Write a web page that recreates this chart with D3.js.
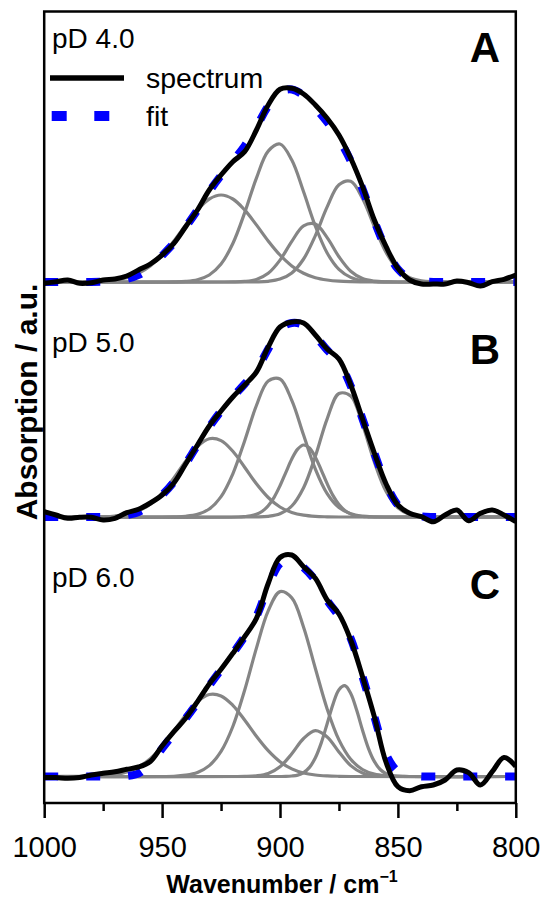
<!DOCTYPE html>
<html><head><meta charset="utf-8">
<script src="https://cdn.jsdelivr.net/npm/d3@7"></script>
<style>
body{margin:0;background:#fff}
svg text{font-family:"Liberation Sans",Arial,Helvetica,sans-serif;fill:#000}
</style>
</head><body>
<svg id="chart" width="544" height="899"></svg>
<script>
// ---------------- DATA ----------------
const wavenumber = [1000,995,990,985,980,975,970,965,960,955,950,945,940,935,930,925,920,915,910,905,900,895,890,885,880,875,870,865,860,855,850,845,840,835,830,825,820,815,810,805,800];

const specA = [-0.013,0.003,0.02,-0.013,-0.007,0.02,0.03,0.06,0.12,0.18,0.27,0.387,0.553,0.72,0.92,1.07,1.203,1.303,1.52,1.77,1.927,1.937,1.88,1.77,1.637,1.47,1.237,0.953,0.62,0.353,0.137,0.02,-0.02,-0.02,-0.02,0.01,-0.007,-0.04,0.003,0.027,0.07];
const fitA  = [0,0,0,0,0,0.003,0.01,0.03,0.07,0.15,0.265,0.39,0.55,0.72,0.905,1.065,1.21,1.36,1.55,1.76,1.9,1.925,1.865,1.74,1.6,1.43,1.21,0.93,0.61,0.33,0.13,0.035,0.008,0,0,0,0,0,0,0,0];

const specB = [0.053,0.02,-0.013,-0.003,-0.003,-0.03,-0.013,0.043,0.077,0.14,0.22,0.34,0.53,0.72,0.91,1.06,1.2,1.32,1.45,1.7,1.9,1.95,1.94,1.82,1.68,1.58,1.32,0.98,0.64,0.33,0.12,0.037,0.003,-0.047,0.02,0.07,-0.037,0.037,0.07,0.02,-0.047];
const fitB  = [0,0,0,0,0,0,0,0.02,0.05,0.12,0.22,0.35,0.53,0.72,0.9,1.06,1.2,1.33,1.47,1.68,1.88,1.94,1.92,1.81,1.67,1.55,1.31,0.98,0.64,0.33,0.12,0.03,0.005,0,0,0,0,0,0,0,0];

const specC = [-0.01,-0.01,-0.018,-0.01,0.015,0.032,0.048,0.072,0.095,0.15,0.305,0.448,0.582,0.748,0.925,1.072,1.232,1.398,1.582,1.93,2.19,2.215,2.098,1.982,1.765,1.625,1.365,0.998,0.598,0.14,-0.102,-0.142,-0.102,-0.085,-0.035,0.065,0.038,-0.085,0.048,0.19,0.1];
const fitC  = [0,0,0,0,0,0,0,0.005,0.03,0.13,0.28,0.43,0.58,0.74,0.91,1.07,1.23,1.4,1.6,1.9,2.13,2.18,2.09,1.96,1.76,1.6,1.38,1.0,0.6,0.22,0.05,0.01,0,0,0,0,0,0,0,0,0];

// fitted component bands: [wavenumber, absorption]
const compA1 = [[1000,0],[985,0.001],[980,0.003],[975,0.008],[970,0.02],[965,0.043],[960,0.088],[955,0.161],[950,0.27],[945,0.411],[940,0.571],[935,0.721],[930,0.83],[925,0.87],[920,0.83],[915,0.721],[910,0.571],[905,0.411],[900,0.27],[895,0.161],[890,0.088],[885,0.043],[880,0.02],[875,0.008],[870,0.003],[865,0.001],[860,0],[800,0]];
const compA2 = [[1000,0],[950,0],[945,0.001],[940,0.006],[935,0.023],[930,0.07],[925,0.179],[920,0.385],[915,0.691],[910,1.039],[905,1.309],[900,1.38],[895,1.219],[890,0.902],[885,0.558],[880,0.29],[875,0.126],[870,0.046],[865,0.014],[860,0.004],[855,0.001],[850,0],[800,0]];
const compA3 = [[1000,0],[925,0],[920,0.001],[915,0.006],[910,0.026],[905,0.087],[900,0.219],[895,0.406],[890,0.562],[885,0.579],[880,0.444],[875,0.253],[870,0.108],[865,0.034],[860,0.008],[855,0.001],[850,0],[800,0]];
const compA4 = [[1000,0],[915,0],[910,0.001],[905,0.007],[900,0.029],[895,0.091],[890,0.23],[885,0.464],[880,0.751],[875,0.972],[870,1.007],[865,0.835],[860,0.555],[855,0.295],[850,0.125],[845,0.043],[840,0.012],[835,0.003],[830,0],[800,0]];

const compB1 = [[1000,0],[980,0.001],[975,0.003],[970,0.01],[965,0.026],[960,0.062],[955,0.129],[950,0.239],[945,0.39],[940,0.558],[935,0.704],[930,0.782],[925,0.764],[920,0.657],[915,0.498],[910,0.332],[905,0.195],[900,0.1],[895,0.046],[890,0.018],[885,0.006],[880,0.002],[875,0],[800,0]];
const compB2 = [[1000,0],[950,0],[945,0.002],[940,0.007],[935,0.026],[930,0.08],[925,0.204],[920,0.432],[915,0.761],[910,1.115],[905,1.36],[900,1.38],[895,1.166],[890,0.819],[885,0.479],[880,0.233],[875,0.094],[870,0.032],[865,0.009],[860,0.002],[855,0],[800,0]];
const compB3 = [[1000,0],[917.5,0],[915,0.004],[912.5,0.011],[910,0.027],[907.5,0.058],[905,0.113],[902.5,0.197],[900,0.312],[897.5,0.447],[895,0.58],[892.5,0.679],[890,0.72],[887.5,0.69],[885,0.598],[882.5,0.469],[880,0.333],[877.5,0.214],[875,0.124],[872.5,0.065],[870,0.031],[867.5,0.013],[865,0.005],[862.5,0.002],[860,0],[800,0]];
const compB4 = [[1000,0],[915,0],[910,0.001],[905,0.007],[900,0.032],[895,0.11],[890,0.293],[885,0.607],[880,0.982],[875,1.235],[870,1.211],[865,0.925],[860,0.55],[855,0.254],[850,0.092],[845,0.026],[840,0.006],[835,0.001],[830,0],[800,0]];

const compC1 = [[1000,0],[985,0.001],[980,0.003],[975,0.008],[970,0.02],[965,0.046],[960,0.096],[955,0.179],[950,0.3],[945,0.454],[940,0.615],[935,0.749],[930,0.82],[925,0.806],[920,0.712],[915,0.565],[910,0.402],[905,0.258],[900,0.148],[895,0.076],[890,0.035],[885,0.015],[880,0.006],[875,0.002],[870,0],[800,0]];
const compC2 = [[1000,0],[950,0],[945,0.002],[940,0.013],[935,0.041],[930,0.109],[925,0.251],[920,0.5],[915,0.862],[910,1.284],[905,1.657],[900,1.849],[895,1.786],[890,1.493],[885,1.08],[880,0.676],[875,0.366],[870,0.172],[865,0.07],[860,0.024],[855,0.007],[850,0.002],[845,0],[800,0]];
const compC3 = [[1000,0],[920,0],[915,0.001],[910,0.007],[905,0.03],[900,0.097],[895,0.227],[890,0.38],[885,0.458],[880,0.396],[875,0.246],[870,0.109],[865,0.035],[860,0.008],[855,0.001],[850,0],[800,0]];
const compC4 = [[1000,0],[900,0],[897.5,0.001],[895,0.005],[892.5,0.014],[890,0.039],[887.5,0.091],[885,0.187],[882.5,0.336],[880,0.528],[877.5,0.724],[875,0.868],[872.5,0.908],[870,0.831],[867.5,0.664],[865,0.463],[862.5,0.282],[860,0.151],[857.5,0.07],[855,0.028],[852.5,0.01],[850,0.003],[847.5,0.001],[845,0],[800,0]];

const panelLabels  = ["pD 4.0","pD 5.0","pD 6.0"];
const panelLetters = ["A","B","C"];
const legendLabels = ["spectrum","fit"];
const xTicks      = [1000,950,900,850,800];
const xMinorTicks = [975,925,875,825];
const xTitle = "Wavenumber / cm";
const xTitleSup = "\u22121";
const yTitle = "Absorption / a.u.";

// ---------------- LAYOUT ----------------
const plot = {left:44.2, right:515.8, top:11.5, bottom:803};
const baselinePx = [282, 517, 776.5];   // zero line of each stacked panel
const unitPx = 100;                      // pixels per absorption unit
const labelBaseline  = [48, 352, 587];
const letterBaseline = [62, 364, 599];

const panels = [
  {spec:specA, fit:fitA, comps:[compA1,compA2,compA3,compA4]},
  {spec:specB, fit:fitB, comps:[compB1,compB2,compB3,compB4]},
  {spec:specC, fit:fitC, comps:[compC1,compC2,compC3,compC4]}
];

const svg = d3.select("#chart");
const x = d3.scaleLinear().domain([1000,800]).range([plot.left, plot.right]);

svg.append("defs").append("clipPath").attr("id","clip")
  .append("rect").attr("x",plot.left).attr("y",plot.top)
  .attr("width",plot.right-plot.left).attr("height",plot.bottom-plot.top);

const g = svg.append("g").attr("clip-path","url(#clip)");

panels.forEach((p,i)=>{
  const y = d3.scaleLinear().domain([0,1]).range([baselinePx[i], baselinePx[i]-unitPx]);
  const line = d3.line().x(d=>x(d[0])).y(d=>y(d[1])).curve(d3.curveCatmullRom.alpha(0.5));
  const gp = g.append("g");
  gp.selectAll("path.comp").data(p.comps).join("path")
    .attr("class","comp").attr("d",line)
    .attr("fill","none").attr("stroke","#858585").attr("stroke-width",3.2);
  gp.append("path").datum(wavenumber.map((w,k)=>[w,p.fit[k]])).attr("d",line)
    .attr("fill","none").attr("stroke","#0000ff").attr("stroke-width",8)
    .attr("stroke-dasharray","14,28");
  gp.append("path").datum(wavenumber.map((w,k)=>[w,p.spec[k]])).attr("d",line)
    .attr("fill","none").attr("stroke","#000").attr("stroke-width",5)
    .attr("stroke-linejoin","round");
  svg.append("text").attr("x",52).attr("y",labelBaseline[i])
    .attr("font-size",28).text(panelLabels[i]);
  svg.append("text").attr("x",500).attr("y",letterBaseline[i])
    .attr("text-anchor","end").attr("font-size",42).attr("font-weight","bold")
    .text(panelLetters[i]);
});

// legend
svg.append("line").attr("x1",50).attr("x2",124).attr("y1",78).attr("y2",78)
  .attr("stroke","#000").attr("stroke-width",5.5);
svg.append("line").attr("x1",51.7).attr("x2",109.3).attr("y1",116).attr("y2",116)
  .attr("stroke","#0000ff").attr("stroke-width",10).attr("stroke-dasharray","15,27.6");
svg.append("text").attr("x",146).attr("y",88).attr("font-size",28.5).text(legendLabels[0]);
svg.append("text").attr("x",146).attr("y",126).attr("font-size",28.5).text(legendLabels[1]);

// axes
const ax = svg.append("g").attr("transform",`translate(0,${plot.bottom})`)
  .call(d3.axisBottom(x).tickValues(xTicks).tickSize(15).tickPadding(18).tickFormat(d3.format("d")));
ax.select(".domain").remove();
ax.selectAll("line").attr("stroke","#000").attr("stroke-width",2.5);
ax.selectAll("text").attr("font-size",29).attr("font-family",null);

const axm = svg.append("g").attr("transform",`translate(0,${plot.bottom})`)
  .call(d3.axisBottom(x).tickValues(xMinorTicks).tickSize(8).tickFormat(""));
axm.select(".domain").remove();
axm.selectAll("line").attr("stroke","#000").attr("stroke-width",2.5);

// frame
svg.append("rect").attr("x",plot.left).attr("y",plot.top)
  .attr("width",plot.right-plot.left).attr("height",plot.bottom-plot.top)
  .attr("fill","none").attr("stroke","#000").attr("stroke-width",2.5);

// titles
const xt = svg.append("text").attr("x",282).attr("y",893).attr("text-anchor","middle")
  .attr("font-size",25).attr("font-weight","bold");
xt.append("tspan").text(xTitle);
xt.append("tspan").attr("dy",-11).attr("font-size",16).text(xTitleSup);

svg.append("text").attr("transform","translate(37,402) rotate(-90)")
  .attr("text-anchor","middle").attr("font-size",30).attr("font-weight","bold")
  .text(yTitle);
</script>
</body></html>
